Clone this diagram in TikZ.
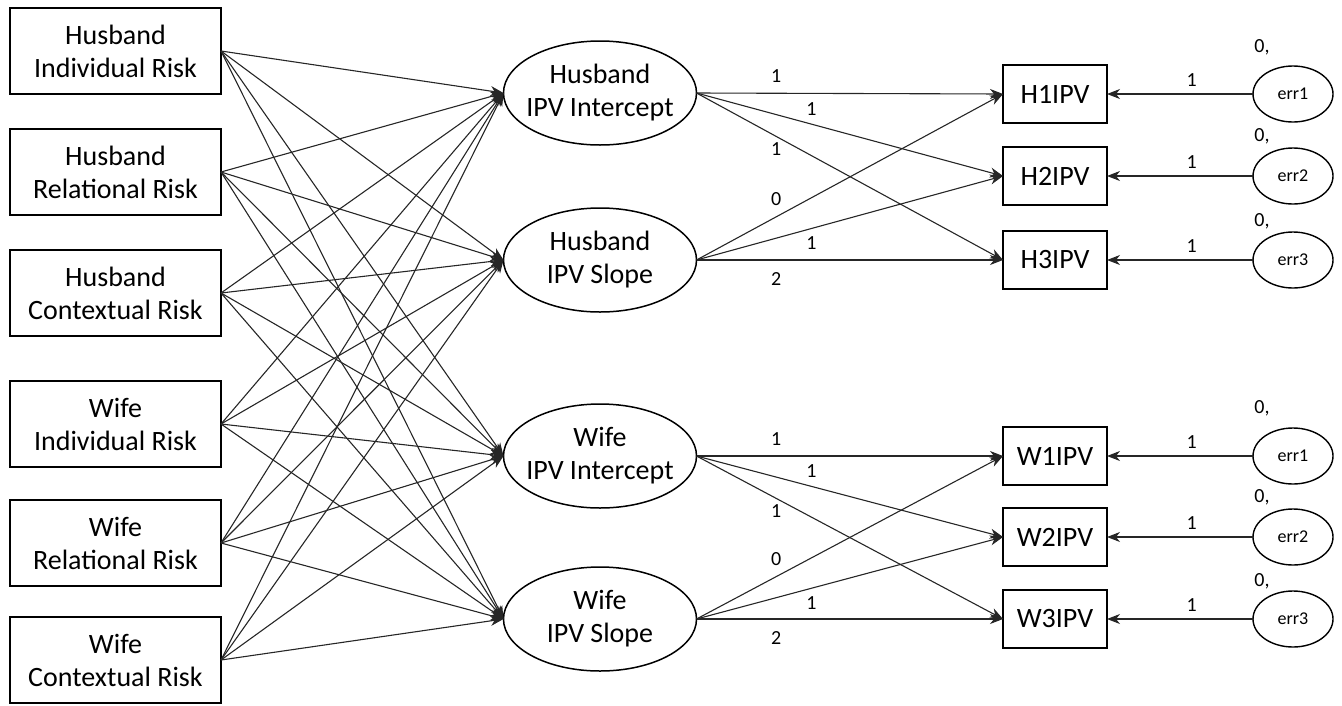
\documentclass[tikz,border=0pt]{standalone}
\usepackage{fontspec}
\setmainfont{Carlito}
\usetikzlibrary{arrows.meta,shapes.geometric}
\begin{document}
\begin{tikzpicture}[x=1pt,y=-1pt,
  box/.style={draw, line width=1.5pt, rectangle, minimum width=211pt, minimum height=86pt, inner sep=0pt, outer sep=0pt, align=center, font=\fontsize{28}{33}\selectfont},
  obs/.style={draw, line width=1.5pt, rectangle, minimum width=104pt, minimum height=58pt, inner sep=0pt, outer sep=0pt, font=\fontsize{28}{33}\selectfont},
  lat/.style={draw, ellipse, line width=1.5pt, minimum width=193pt, minimum height=104pt, inner sep=0pt, outer sep=0pt},
  lattext/.style={align=center, font=\fontsize{28}{33}\selectfont, inner sep=0pt},
  errn/.style={draw, ellipse, line width=1.4pt, minimum width=80pt, minimum height=56pt, inner sep=0pt, outer sep=0pt, font=\fontsize{18}{20}\selectfont},
  lab/.style={font=\fontsize{20}{22}\selectfont, inner sep=0pt},
  conn/.style={line width=1.1pt, draw=black!85, -{Stealth[length=13pt,width=10pt,inset=4pt]}},
]
\useasboundingbox (0,0) rectangle (1342,705);

% exogenous boxes
\node[box] (hir) at (115.5,51)  {Husband\\Individual Risk};
\node[box] (hrr) at (115.5,172) {Husband\\Relational Risk};
\node[box] (hcr) at (115.5,293) {Husband\\Contextual Risk};
\node[box] (wir) at (115.5,424) {Wife\\Individual Risk};
\node[box] (wrr) at (115.5,543) {Wife\\Relational Risk};
\node[box] (wcr) at (115.5,660) {Wife\\Contextual Risk};

% latent growth factors
\node[lat] (hi) at (600,93)  {};
\node[lattext] (hit) at (hi) {Husband\\IPV Intercept};
\node[lat] (hs) at (600,260) {};
\node[lattext] (hst) at (hs) {Husband\\IPV Slope};
\node[lat] (wi) at (600,456) {};
\node[lattext] (wit) at (wi) {Wife\\IPV Intercept};
\node[lat] (ws) at (600,619) {};
\node[lattext] (wst) at (ws) {Wife\\IPV Slope};

% observed
\node[obs] (h1) at (1055,94)  {H1IPV};
\node[obs] (h2) at (1055,176) {H2IPV};
\node[obs] (h3) at (1055,260) {H3IPV};
\node[obs] (w1) at (1055,456) {W1IPV};
\node[obs] (w2) at (1055,537) {W2IPV};
\node[obs] (w3) at (1055,619) {W3IPV};

% errors
\node[errn] (eh1) at (1293,94)  {err1};
\node[errn] (eh2) at (1293,176) {err2};
\node[errn] (eh3) at (1293,260) {err3};
\node[errn] (ew1) at (1293,456) {err1};
\node[errn] (ew2) at (1293,537) {err2};
\node[errn] (ew3) at (1293,619) {err3};

\node[lab] (veh1) at (1262,47)  {0,};
\node[lab] (veh2) at (1262,136) {0,};
\node[lab] (veh3) at (1262,221) {0,};
\node[lab] (vew1) at (1262,408) {0,};
\node[lab] (vew2) at (1262,497) {0,};
\node[lab] (vew3) at (1262,581) {0,};

% predictors -> growth factors
\foreach \s in {hir,hrr,hcr,wir,wrr,wcr}{
  \foreach \t in {hi,hs,wi,ws}{
    \draw[conn] (\s.east) -- (\t.west);
  }
}

% loadings
\foreach \i/\s/\a/\b/\c in {hi/hs/h1/h2/h3, wi/ws/w1/w2/w3}{
  \draw[conn] (\i.east) -- node[lab, pos=.26, yshift=17pt]{1} (\a.west);
  \draw[conn] (\i.east) -- node[lab, pos=.375, yshift=15pt]{1} (\b.west);
  \draw[conn] (\i.east) -- node[lab, pos=.26, yshift=-13pt]{1} (\c.west);
  \draw[conn] (\s.east) -- node[lab, pos=.26, yshift=18pt]{0} (\a.west);
  \draw[conn] (\s.east) -- node[lab, pos=.375, yshift=-15pt]{1} (\b.west);
  \draw[conn] (\s.east) -- node[lab, pos=.26, yshift=-19pt]{2} (\c.west);
}

% errors -> observed
\foreach \e/\o in {eh1/h1, eh2/h2, eh3/h3, ew1/w1, ew2/w2, ew3/w3}{
  \draw[conn] (\e.west) -- node[lab, pos=.42, yshift=14pt]{1} (\o.east);
}
\end{tikzpicture}
\end{document}
